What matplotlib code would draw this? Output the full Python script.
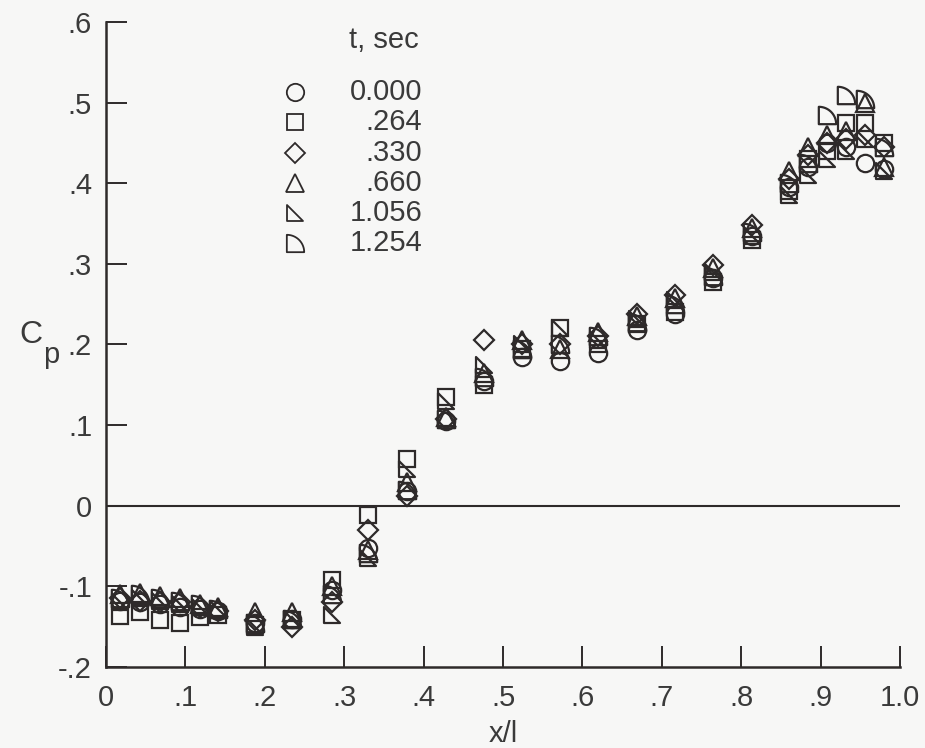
import numpy as np
import matplotlib
matplotlib.use('Agg')
import matplotlib.pyplot as plt
from matplotlib.path import Path

plt.rcParams['font.family'] = ['Liberation Sans', 'DejaVu Sans']

# chordwise stations
x_l = [0.018, 0.043, 0.068, 0.093, 0.118, 0.141, 0.188, 0.234, 0.285, 0.330,
       0.379, 0.428, 0.476, 0.524, 0.572, 0.620, 0.669, 0.717, 0.765, 0.813,
       0.860, 0.884, 0.908, 0.932, 0.956, 0.980]

times = ['0.000', '.264', '.330', '.660', '1.056', '1.254']

cp_000 = [-0.118, -0.120, -0.122, -0.125, -0.128, -0.130, -0.145, -0.140, -0.105, -0.052,
          0.018, 0.105, 0.155, 0.185, 0.180, 0.190, 0.218, 0.238, 0.283, 0.335,
          0.395, 0.420, 0.450, 0.445, 0.425, 0.418]
cp_264 = [-0.137, -0.132, -0.142, -0.145, -0.138, -0.135, -0.148, -0.142, -0.092, -0.012,
          0.058, 0.135, 0.150, 0.195, 0.220, 0.200, 0.225, 0.240, 0.278, 0.330,
          0.390, 0.430, 0.440, 0.475, 0.475, 0.450]
cp_330 = [-0.115, -0.118, -0.120, -0.120, -0.125, -0.130, -0.142, -0.150, -0.120, -0.030,
          0.012, 0.108, 0.205, 0.200, 0.200, 0.210, 0.238, 0.262, 0.298, 0.348,
          0.405, 0.435, 0.450, 0.455, 0.460, 0.445]
cp_660 = [-0.110, -0.108, -0.112, -0.115, -0.122, -0.125, -0.132, -0.132, -0.100, -0.055,
          0.030, 0.110, 0.165, 0.205, 0.195, 0.215, 0.235, 0.258, 0.295, 0.345,
          0.415, 0.445, 0.460, 0.465, 0.500, 0.420]
cp_1056 = [-0.120, -0.115, -0.118, -0.122, -0.125, -0.128, -0.150, -0.140, -0.135, -0.065,
           0.045, 0.130, 0.175, 0.200, 0.220, 0.205, 0.232, 0.255, 0.290, 0.335,
           0.385, 0.410, 0.430, 0.440, 0.455, 0.415]
cp_1254 = [-0.115, -0.110, -0.115, -0.118, -0.122, -0.128, -0.145, -0.140, -0.110, -0.058,
           0.020, 0.107, 0.160, 0.195, 0.200, 0.210, 0.228, 0.250, 0.285, 0.340,
           0.400, 0.425, 0.485, 0.510, 0.505, 0.445]

series = [cp_000, cp_264, cp_330, cp_660, cp_1056, cp_1254]

# open right-triangle and quarter-disc symbols
right_tri = Path([(-1, 1), (-1, -1), (1, -1), (-1, 1)],
                 [Path.MOVETO, Path.LINETO, Path.LINETO, Path.CLOSEPOLY])
th = np.linspace(np.pi / 2, 0, 30)
q_verts = [(-1, -1)] + [(-1 + 2 * np.cos(a), -1 + 2 * np.sin(a)) for a in th] + [(-1, -1)]
q_codes = [Path.MOVETO] + [Path.LINETO] * len(th) + [Path.CLOSEPOLY]
quarter = Path(q_verts, q_codes)

markers = ['o', 's', 'D', '^', right_tri, quarter]
sizes = [12.5, 12, 10.5, 12.5, 11.5, 12.5]

ink = '#2e2a2a'
txt = '#3a3a3a'
bg = '#f7f7f6'
fs = 21

fig = plt.figure(figsize=(9.25, 7.48), dpi=100, facecolor=bg)
ax = fig.add_axes([0.1146, 0.1083, 0.8584, 0.8623], facecolor=bg)

for cp, m, s in zip(series, markers, sizes):
    ax.plot(x_l, cp, linestyle='none', marker=m, markersize=s,
            markerfacecolor='none', markeredgecolor=ink, markeredgewidth=1.6,
            clip_on=False)

ax.axhline(0, color=ink, lw=1.5, zorder=0)

ax.set_xlim(0, 1.0)
ax.set_ylim(-0.2, 0.6)
xt = np.arange(0, 1.01, 0.1)
ax.set_xticks(xt)
ax.set_xticklabels(['0', '.1', '.2', '.3', '.4', '.5', '.6', '.7', '.8', '.9', '1.0'])
yt = np.arange(-0.2, 0.61, 0.1)
ax.set_yticks(yt)
ax.set_yticklabels(['-.2', '-.1', '0', '.1', '.2', '.3', '.4', '.5', '.6'])

for sp in ['top', 'right']:
    ax.spines[sp].set_visible(False)
for sp in ['left', 'bottom']:
    ax.spines[sp].set_linewidth(1.8)
    ax.spines[sp].set_color(ink)

ax.tick_params(direction='in', length=15, width=1.4, color=ink,
               labelsize=fs, labelcolor=txt, pad=10)
ax.tick_params(axis='x', pad=12)

ax.set_xlabel('x/l', fontsize=fs, color=txt, labelpad=6)
ax.text(-0.094, 0.514, 'C', transform=ax.transAxes, fontsize=fs + 2, color=txt,
        ha='center', va='center')
ax.text(-0.069, 0.484, 'p', transform=ax.transAxes, fontsize=fs, color=txt,
        ha='center', va='center')

# symbol key
ax.text(0.35, 0.972, 't, sec', transform=ax.transAxes, fontsize=fs,
        color=txt, ha='center', va='center')
for i, (lab, m, s) in enumerate(zip(times, markers, sizes)):
    yk = 0.891 - i * 0.0468
    ax.plot([0.238], [yk], transform=ax.transAxes, linestyle='none', marker=m,
            markersize=s, markerfacecolor='none', markeredgecolor=ink,
            markeredgewidth=1.3, clip_on=False)
    ax.text(0.398, yk, lab, transform=ax.transAxes, fontsize=fs, color=txt,
            ha='right', va='center')

fig.savefig('out.png', dpi=100, facecolor=bg)
